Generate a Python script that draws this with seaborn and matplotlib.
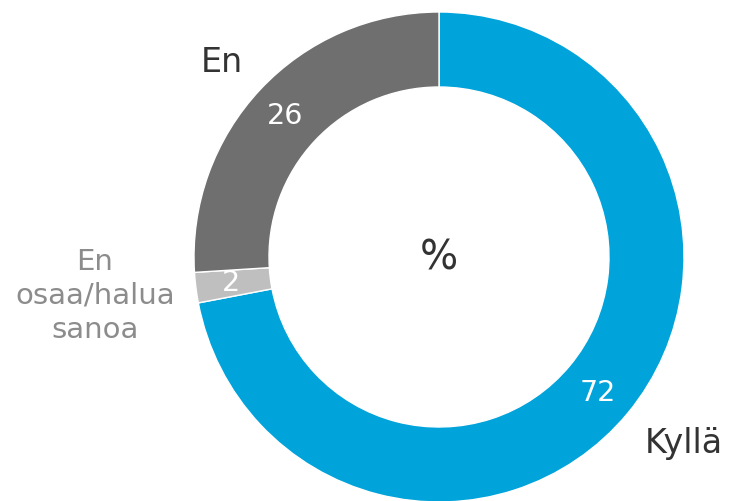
import matplotlib
matplotlib.use("Agg")
import matplotlib.pyplot as plt
import seaborn as sns
import numpy as np

categories = ["Kyllä", "En osaa/halua sanoa", "En"]
values = [72, 2, 26]
colors = ["#00A3DA", "#BFBFBF", "#6F6F6F"]

sns.set_theme(style="white")
plt.rcParams['font.family'] = ['DejaVu Sans']

W, H = 730, 501
fig = plt.figure(figsize=(W / 100, H / 100), dpi=100)
cx, cy, R = 439, 257, 245
ax = fig.add_axes([(cx - R) / W, (H - cy - R) / H, 2 * R / W, 2 * R / H])

width = 75 / 245
wedges, _ = ax.pie(values, colors=colors, startangle=90, counterclock=False,
                   radius=1, wedgeprops=dict(width=width, edgecolor='white', linewidth=1))
ax.set_xlim(-1, 1)
ax.set_ylim(-1, 1)
ax.set_aspect('equal')
ax.axis('off')

def px(x, y):
    return ((x - cx) / R, (cy - y) / R)

lab_kw = dict(ha='center', va='center', clip_on=False)
ax.text(*px(598, 393), str(values[0]), color='white', fontsize=20.5, **lab_kw)
ax.text(*px(230.5, 283), str(values[1]), color='white', fontsize=20.5, **lab_kw)
ax.text(*px(285.5, 116), str(values[2]), color='white', fontsize=20.5, **lab_kw)

ax.text(*px(684, 443), categories[0], color='#333333', fontsize=24, **lab_kw)
ax.text(*px(95, 296), "En\nosaa/halua\nsanoa", color='#8C8C8C', fontsize=21,
        linespacing=1.25, **lab_kw)
ax.text(*px(222, 62), categories[2], color='#333333', fontsize=24, **lab_kw)
ax.text(*px(438.5, 258), "%", color='#333333', fontsize=29, **lab_kw)

fig.savefig("out.png", dpi=100)
